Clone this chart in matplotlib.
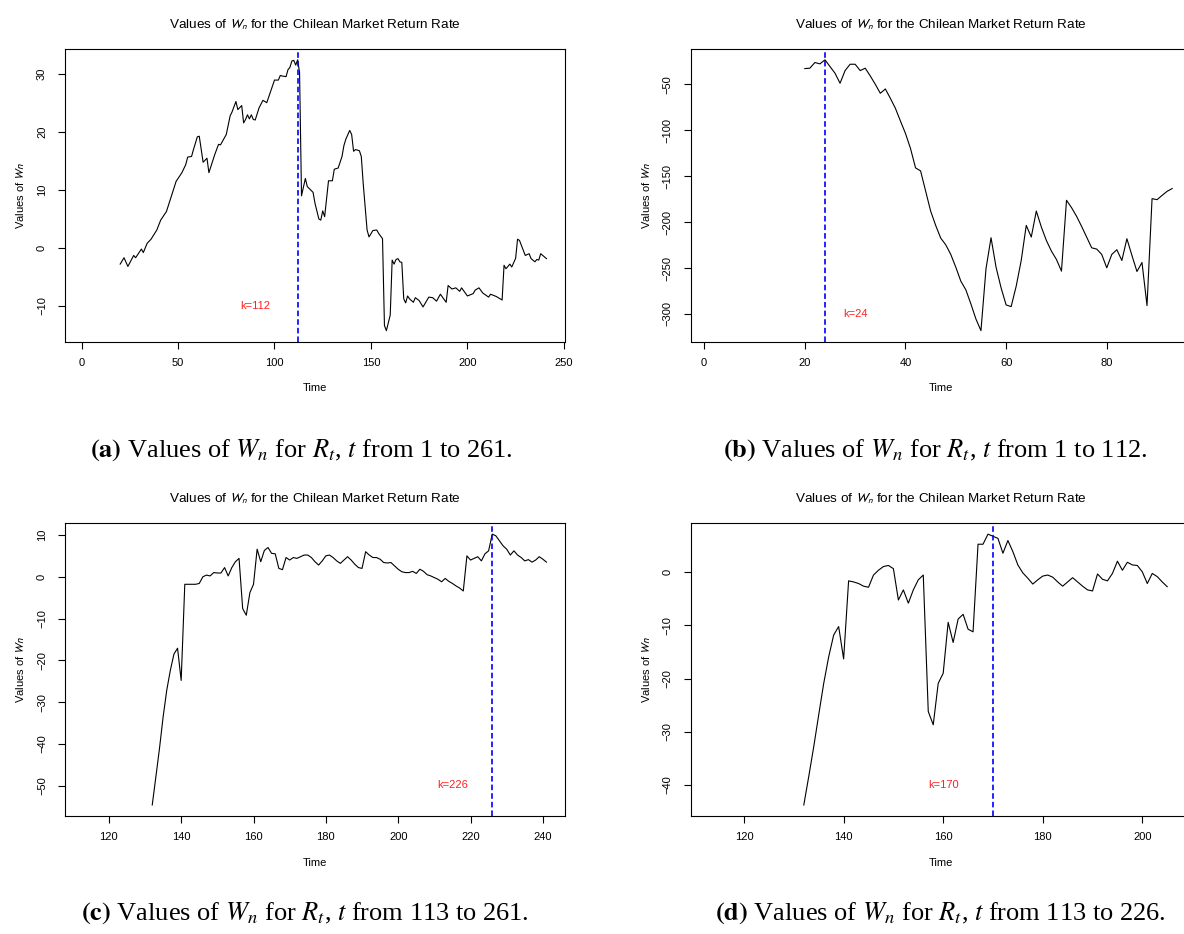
import matplotlib
matplotlib.use("Agg")
from matplotlib import pyplot as plt

plt.rcParams["font.family"] = ["Liberation Sans", "DejaVu Sans"]
plt.rcParams["lines.scale_dashes"] = False

# (a) t from 1 to 261
a_t = [20, 22, 24, 27, 28, 31, 32, 34, 36, 39, 41, 44, 47, 49, 52, 54, 55, 57, 58, 60,
       61, 63, 65, 66, 69, 71, 72, 75, 77, 78, 80, 81, 83, 84, 85, 86, 87, 88, 89, 90,
       92, 94, 96, 100, 102, 103, 104, 106, 107, 108, 109, 110, 111, 112, 113, 114, 116, 117,
       120, 121, 123, 124, 125, 126, 128, 130, 131, 133, 135, 136, 137, 139, 140, 141, 142,
       144, 145, 146, 148, 149, 151, 153, 154, 156, 157, 158, 160, 161, 162, 163, 164, 165,
       166, 167, 168, 169, 170, 172, 173, 175, 177, 180, 182, 184, 186, 189, 190, 192, 194,
       196, 197, 200, 203, 204, 206, 208, 211, 212, 215, 218, 219, 220, 222, 223, 225, 226,
       227, 229, 230, 232, 233, 235, 236, 237, 238, 241]
a_w = [-2.8, -1.7, -3.2, -1.3, -1.7, -0.2, -0.8, 0.8, 1.5, 3.1, 4.8, 6.3, 9.4, 11.5, 13.0,
       14.4, 15.7, 15.8, 17.0, 19.2, 19.3, 14.8, 15.5, 13.0, 16.1, 17.9, 17.8, 19.6, 22.8,
       23.5, 25.3, 23.9, 24.6, 21.6, 22.2, 23.0, 22.3, 23.0, 22.2, 22.1, 24.2, 25.5, 25.1,
       29.0, 29.0, 29.8, 29.7, 29.6, 30.8, 31.2, 32.3, 32.4, 31.6, 32.5, 30.3, 9.0, 12.0,
       10.6, 9.6, 7.7, 5.0, 4.8, 6.4, 5.4, 11.6, 11.6, 13.6, 13.8, 15.8, 17.7, 18.8, 20.3,
       19.6, 16.7, 17.0, 16.8, 15.8, 11.1, 3.1, 1.9, 3.0, 3.1, 2.5, 1.6, -13.4, -14.3, -11.6,
       -2.1, -2.8, -2.0, -1.85, -2.4, -2.5, -8.8, -9.5, -8.3, -8.8, -9.4, -8.6, -9.1, -10.2,
       -8.5, -8.6, -9.2, -8.0, -9.4, -6.5, -7.1, -6.9, -7.5, -6.9, -8.3, -7.9, -7.3, -6.9,
       -7.8, -8.5, -8.0, -8.4, -9.0, -3.0, -3.6, -2.8, -3.3, -1.8, 1.5, 1.3, -0.4, -1.3,
       -1.0, -1.85, -2.4, -2.0, -2.1, -1.0, -1.85]

# (b) t from 1 to 112
b_t = list(range(20, 94))
b_w = [-32.9, -32.5, -26.3, -27.8, -23.4, -30.7, -38.0, -48.9, -35.1, -28.2, -28.2, -35.1,
       -32.5, -40.9, -50.0, -59.8, -55.1, -65.3, -76.2, -90.0, -103.5, -119.9, -141.0,
       -144.3, -166.1, -188.0, -203.6, -217.4, -224.7, -235.2, -249.1, -264.3, -273.8,
       -289.1, -305.5, -318.2, -250.9, -217.0, -249.1, -271.6, -290.2, -292.0, -269.8,
       -241.8, -203.6, -216.3, -188.0, -205.4, -220.0, -231.6, -240.7, -253.4, -176.3,
       -184.3, -193.7, -204.7, -216.3, -228.0, -229.4, -235.2, -249.8, -235.2, -230.1,
       -241.8, -218.1, -236.3, -253.8, -244.0, -290.9, -174.5, -175.6, -170.9, -166.5,
       -163.5]

# (c) t from 113 to 261
c_t = list(range(132, 242))
c_w = [-54.6, -47.9, -41.1, -33.6, -27.2, -22.4, -18.5, -17.1, -24.8, -1.8, -1.8, -1.8,
       -1.8, -1.6, 0.0, 0.4, 0.2, 1.0, 0.9, 0.9, 2.2, 0.2, 2.2, 3.6, 4.4, -7.6, -9.2, -3.8,
       -1.8, 6.6, 3.6, 6.3, 7.0, 5.6, 5.5, 2.0, 1.7, 4.6, 4.0, 4.6, 4.4, 4.8, 5.2, 5.2, 4.6,
       3.6, 2.8, 3.8, 5.0, 5.2, 4.6, 3.8, 3.2, 4.0, 4.8, 4.0, 3.0, 2.2, 2.0, 6.0, 5.2, 4.6,
       4.6, 4.2, 3.4, 3.3, 3.4, 2.6, 1.8, 1.2, 1.0, 1.0, 1.3, 0.8, 1.8, 1.3, 0.5, 0.2, -0.2,
       -0.6, -1.2, -0.4, -1.1, -1.6, -2.2, -2.7, -3.4, 5.0, 4.0, 4.4, 4.8, 3.8, 5.5, 6.2,
       10.2, 9.8, 8.6, 7.4, 6.6, 5.2, 6.2, 5.2, 4.6, 3.8, 4.1, 3.5, 4.0, 4.8, 4.2, 3.5]

# (d) t from 113 to 226
d_t = list(range(132, 206))
d_w = [-43.8, -38.4, -32.8, -26.8, -20.9, -15.9, -11.8, -10.2, -16.3, -1.6, -1.8, -2.1,
       -2.6, -2.8, -0.5, 0.4, 1.1, 1.3, 0.7, -5.2, -3.3, -5.8, -3.3, -1.4, -0.5, -26.2,
       -28.7, -20.9, -19.0, -9.4, -13.2, -8.8, -7.9, -10.7, -11.2, 5.3, 5.3, 7.2, 6.8, 6.4,
       3.6, 6.0, 3.9, 1.4, -0.1, -1.1, -2.2, -1.4, -0.7, -0.5, -0.9, -1.8, -2.6, -1.8, -1.0,
       -1.8, -2.6, -3.3, -3.5, -0.3, -1.3, -1.6, -0.2, 2.1, 0.4, 1.9, 1.4, 1.3, 0.1, -2.1,
       -0.2, -0.8, -1.8, -2.7]

change_points = [112, 24, 226, 170]
label_pos = [(90, -10.1), (30, -300), (215, -49.9), (160, -40)]
x_ranges = [(1, 241), (1, 93), (113, 241), (113, 206)]
x_ticks = [[0, 50, 100, 150, 200, 250], [0, 20, 40, 60, 80],
           [120, 140, 160, 180, 200, 220, 240], [120, 140, 160, 180, 200]]
y_ticks = [[-10, 0, 10, 20, 30], [-300, -250, -200, -150, -100, -50],
           [-50, -40, -30, -20, -10, 0, 10], [-40, -30, -20, -10, 0]]
captions = [("a", "1 to 261"), ("b", "1 to 112"), ("c", "113 to 261"), ("d", "113 to 226")]
caption_xy = [(301, 450), (935, 450), (305, 913), (940, 913)]

W, H = 1184, 934


def pad(lo, hi):
    d = (hi - lo) * 0.04
    return lo - d, hi + d


def draw_panel(fig, rect, t, w, i):
    left, top = rect
    ax = fig.add_axes([left / W, 1 - (top + 292.5) / H, 500 / W, 292.5 / H])
    ax.plot(t, w, color="black", lw=0.8)
    k = change_points[i]
    ax.axvline(k, color="#0000ff", lw=1.2, dashes=(4, 2.2))
    lx, ly = label_pos[i]
    ax.text(lx, ly, "k=%d" % k, color="#ff2020", fontsize=8, ha="center", va="center")

    ax.set_xlim(pad(*x_ranges[i]))
    ax.set_ylim(pad(min(w), max(w)))
    ax.set_xticks(x_ticks[i])
    ax.set_yticks(y_ticks[i])
    ax.tick_params(labelsize=8, length=5, width=0.8)
    ax.tick_params(axis="x", pad=7)
    ax.tick_params(axis="y", labelrotation=90, pad=8)
    for lab in ax.get_yticklabels():
        lab.set_va("center")
    for s in ax.spines.values():
        s.set_linewidth(0.8)

    ax.set_title(r"Values of $W_n$ for the Chilean Market Return Rate",
                 fontsize=9.7, pad=15, math_fontfamily="stixsans")
    ax.set_xlabel("Time", fontsize=8, labelpad=11)
    ax.set_ylabel(r"Values of $Wn$", fontsize=8, labelpad=8,
                  math_fontfamily="stixsans")

    letter, rng = captions[i]
    cx, cy = caption_xy[i]
    fig.text(cx / W, 1 - cy / H,
             r"$\mathbf{(%s)}$ Values of $W_n$ for $R_t$, $t$ from %s." % (letter, rng),
             fontsize=19, family="Liberation Serif", math_fontfamily="stix",
             ha="center", va="center")
    return ax


def main():
    fig = plt.figure(figsize=(W / 100, H / 100), dpi=100)
    draw_panel(fig, (65, 49), a_t, a_w, 0)
    draw_panel(fig, (690.7, 49), b_t, b_w, 1)
    draw_panel(fig, (65, 523.3), c_t, c_w, 2)
    draw_panel(fig, (690.7, 523.3), d_t, d_w, 3)
    fig.savefig("out.png", dpi=100)


if __name__ == "__main__":
    main()
